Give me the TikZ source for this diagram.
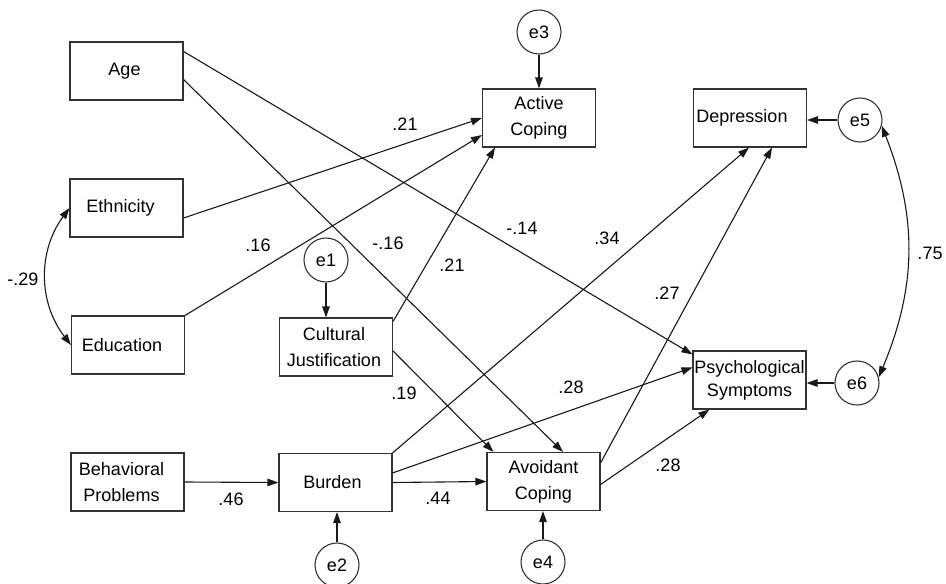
\documentclass[tikz,border=0pt]{standalone}
\usepackage{fontspec}
\setmainfont{Liberation Sans}
\usetikzlibrary{arrows.meta}
\begin{document}
\begin{tikzpicture}[x=1pt,y=-1pt,
  every node/.style={font=\fontsize{18}{26}\selectfont},
  varbox/.style={draw=black!80, line width=1.1pt, minimum width=113pt, minimum height=58pt, inner sep=0pt, align=center},
  errc/.style={draw=black!80, line width=1.1pt, circle, minimum size=44pt, inner sep=0pt},
  coef/.style={inner sep=0pt},
  path/.style={draw=black!90, line width=1.1pt, -{Triangle[length=11pt,width=7.5pt]}},
  cov/.style={draw=black!90, line width=1.1pt, {Triangle[length=11pt,width=7.5pt]}-{Triangle[length=11pt,width=7.5pt]}}
]
\useasboundingbox (0,0) rectangle (946,584);
\fill[white] (0,0) rectangle (946,584);

% observed variables
\node[varbox] (age) at (126.5,71) {Age\kern4pt};
\node[varbox] (eth) at (126.5,208) {Ethnicity\kern12pt};
\node[varbox] (edu) at (128,345) {Education\kern12pt};
\node[varbox] (beh) at (127.5,482) {Behavioral\kern12pt\\Problems\kern12pt};
\node[varbox] (cj)  at (336,347) {Cultural\kern4pt\\Justification\kern4pt};
\node[varbox] (bur) at (335.5,482.5) {Burden\kern6pt};
\node[varbox] (act) at (539,118) {Active\\Coping};
\node[varbox] (avo) at (543.5,481.5) {Avoidant\\Coping};
\node[varbox] (dep) at (750,118) {Depression\kern16pt};
\node[varbox] (psy) at (749.5,380) {Psychological\\[-3pt]Symptoms};

% error terms
\node[errc] (e3) at (539,32) {e3};
\node[errc] (e1) at (326,260) {e1};
\node[errc] (e2) at (337,565) {e2};
\node[errc] (e4) at (543,562) {e4};
\node[errc] (e5) at (860,120) {e5};
\node[errc] (e6) at (857,383) {e6};

% error arrows
\draw[path] (e3.south) -- (act.north);
\draw[path] (e1.south) -- (e1.south |- cj.north);
\draw[path] (e2.north) -- (e2.north |- bur.south);
\draw[path] (e4.north) -- (e4.north |- avo.south);
\draw[path] (e5.west) -- (e5.west -| dep.east);
\draw[path] (e6.west) -- (e6.west -| psy.east);

% structural paths
\draw[path] ([yshift=-10pt]age.north east) -- ([yshift=-4pt]psy.north west);
\draw[path] ([yshift=21pt]age.south east) -- ([xshift=19.5pt]avo.north);
\draw[path] ([yshift=-10pt]eth.east) -- (act.west);
\draw[path] (edu.north east) -- ([yshift=-17pt]act.west);
\draw[path] ([yshift=-4pt]cj.north east) -- ([xshift=-44pt]act.south);
\draw[path] ([yshift=-4pt]cj.east) -- ([xshift=7pt]avo.north west);
\draw[path] (beh.east) -- (bur.west);
\draw[path] (bur.east) -- (avo.west);
\draw[path] (bur.north east) -- ([xshift=-1pt]dep.south);
\draw[path] ([yshift=-20pt]bur.north east) -- ([yshift=-17pt]psy.north west);
\draw[path] ([yshift=-11pt]avo.north east) -- ([xshift=22pt]dep.south);
\draw[path] ([yshift=-3pt]avo.east) -- ([xshift=17pt]psy.south west);

% covariances
\draw[cov] (eth.west) to[bend right=37] (edu.west);
\draw[cov] (e5.-15) to[bend left=22] (e6.15);

% coefficients
\node[coef] (c1) at (405,124) {.21};
\node[coef] (c2) at (258,245) {.16};
\node[coef] (c3) at (388,243) {-.16};
\node[coef] (c4) at (522,228) {-.14};
\node[coef] (c5) at (452,265) {.21};
\node[coef] (c6) at (607,238) {.34};
\node[coef] (c7) at (667,293) {.27};
\node[coef] (c8) at (930,253) {.75};
\node[coef] (c9) at (23,279) {-.29};
\node[coef] (c10) at (404,393) {.19};
\node[coef] (c11) at (571,387) {.28};
\node[coef] (c12) at (231,499) {.46};
\node[coef] (c13) at (438,498) {.44};
\node[coef] (c14) at (668,465) {.28};
\end{tikzpicture}
\end{document}
